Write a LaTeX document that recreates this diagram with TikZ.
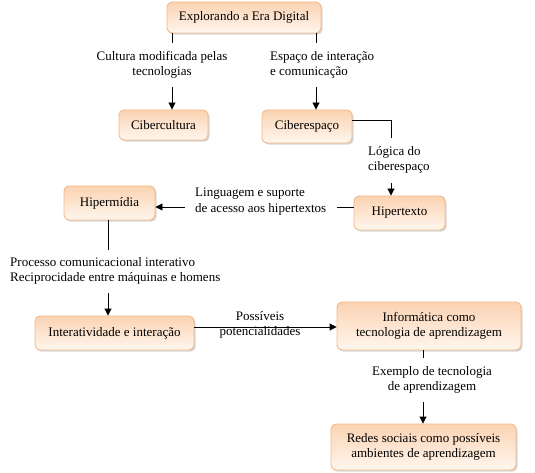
\documentclass[tikz,border=0pt]{standalone}
\usepackage{fontspec}
\setmainfont{Liberation Serif}
\usetikzlibrary{arrows.meta,shadows}
\definecolor{boxtop}{HTML}{FBD3B2}
\definecolor{boxbot}{HTML}{FFF6EE}
\definecolor{boxline}{HTML}{F3B789}
\begin{document}
\begin{tikzpicture}[x=1pt,y=-1pt,
  box/.style={rounded corners=5pt, draw=boxline, line width=0.9pt,
    top color=boxtop, bottom color=boxbot, align=center, inner sep=0pt,
    font=\fontsize{13}{15.5}\selectfont,
    drop shadow={shadow xshift=1.6pt, shadow yshift=-1.6pt, fill=black!35, opacity=0.45}},
  lab/.style={inner sep=0pt, font=\fontsize{13}{15.5}\selectfont},
  conn/.style={line width=0.9pt, draw=black},
  arr/.style={conn, -{Triangle[length=7pt,width=7pt]}}]
\useasboundingbox (0,0) rectangle (535,473);
% boxes
\node[box, minimum width=154pt, minimum height=31pt] (explore) at (244,17.5) {Explorando a Era Digital};
\node[box, minimum width=89pt, minimum height=30pt] (cibercultura) at (163.5,125) {Cibercultura};
\node[box, minimum width=90pt, minimum height=33pt] (ciberespaco) at (307,126.5) {Ciberespaço};
\node[box, minimum width=91pt, minimum height=34pt] (hipertexto) at (399.5,213) {Hipertexto};
\node[box, minimum width=91pt, minimum height=34pt] (hipermidia) at (109.5,203) {Hipermídia};
\node[box, minimum width=159pt, minimum height=34pt] (interat) at (114.5,333) {Interatividade e interação};
\node[box, minimum width=184pt, minimum height=48pt] (informatica) at (429,326) {Informática como\\tecnologia de aprendizagem};
\node[box, minimum width=185pt, minimum height=46pt] (redes) at (423.5,447) {Redes sociais como possíveis\\ambientes de aprendizagem};
% labels
\node[lab, align=center] (lab1) at (162,65) {Cultura modificada pelas\\tecnologias};
\node[lab, align=left, anchor=west] (lab2) at (270,65) {Espaço de interação\\e comunicação};
\node[lab, align=left, anchor=west] (lab3) at (368,160) {Lógica do\\ciberespaço};
\node[lab, align=left, anchor=west] (lab4) at (195,201.5) {Linguagem e suporte\\de acesso aos hipertextos};
\node[lab, align=left, anchor=west] (lab5) at (10,271) {Processo comunicacional interativo\\Reciprocidade entre máquinas e homens};
\node[lab, align=center] (lab6) at (260,325) {Possíveis\\potencialidades};
\node[lab, align=center] (lab7) at (432,380) {Exemplo de tecnologia\\de aprendizagem};
% free ends
\coordinate (e1a) at (172,43);
\coordinate (e1b) at (172,87);
\coordinate (e2a) at (316,43);
\coordinate (e2b) at (316,87);
\coordinate (e3a) at (391,138);
\coordinate (e3b) at (391,183);
\coordinate (e4a) at (337,207);
\coordinate (e4b) at (185,207);
\coordinate (e5a) at (108,250);
\coordinate (e5b) at (108,293);
\coordinate (e7a) at (423,358);
\coordinate (e7b) at (423,402);
% connectors
\draw[conn] (explore.south -| e1a) -- (e1a);
\draw[arr] (e1b) -- (e1b |- cibercultura.north);
\draw[conn] (explore.south -| e2a) -- (e2a);
\draw[arr] (e2b) -- (e2b |- ciberespaco.north);
\draw[conn] (ciberespaco.east |- 0,120) -- (e3a |- 0,120) -- (e3a);
\draw[arr] (e3b) -- (e3b |- hipertexto.north);
\draw[conn] (hipertexto.west |- e4a) -- (e4a);
\draw[arr] (e4b) -- (e4b -| hipermidia.east);
\draw[conn] (hipermidia.south -| e5a) -- (e5a);
\draw[arr] (e5b) -- (e5b |- interat.north);
\draw[arr] (interat.east |- 0,327) -- (informatica.west |- 0,327);
\draw[conn] (informatica.south -| e7a) -- (e7a);
\draw[arr] (e7b) -- (e7b |- redes.north);
\end{tikzpicture}
\end{document}
